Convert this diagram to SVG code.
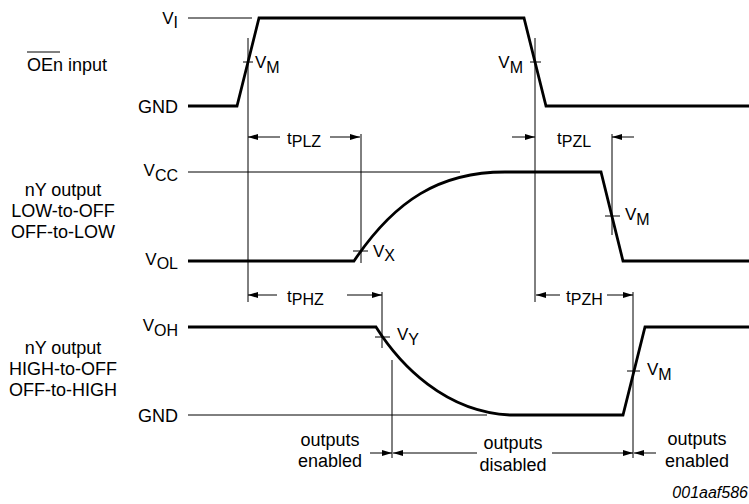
<svg xmlns="http://www.w3.org/2000/svg" width="749" height="504" viewBox="0 0 749 504">
<defs>
<style>
text{font-family:"Liberation Sans",Arial,sans-serif;fill:#000}
.lbl{font-size:18px}
.v{font-size:17px}
.s{font-size:16px}
.thick{fill:none;stroke:#000;stroke-width:2.8;stroke-linejoin:miter}
.thin{fill:none;stroke:#000;stroke-width:1}
.arr{fill:none;stroke:#000;stroke-width:1;marker-end:url(#ah)}
.mid{text-anchor:middle}
.end{text-anchor:end}
</style>
<marker id="ah" viewBox="0 0 10 6" refX="10" refY="3" markerWidth="10" markerHeight="6" markerUnits="userSpaceOnUse" orient="auto">
<path d="M0,0 L10,3 L0,6 Z" fill="#000"/>
</marker>
</defs>
<rect width="749" height="504" fill="#fff"/>

<g id="row-oen">
<text class="lbl" x="27" y="71">OEn input</text>
<line class="thin" x1="27" y1="52" x2="60" y2="52"/>
<text class="v end" x="178" y="24">V<tspan class="s" dy="4">I</tspan></text>
<text class="lbl end" x="178" y="113">GND</text>
<path class="thin" d="M188,18 H252"/>
<path class="thick" d="M188,106 H237 L259,18 H524 L546,106 H749"/>
</g>

<g id="row-low">
<text class="lbl mid" x="63" y="196">nY output</text>
<text class="lbl mid" x="63" y="217">LOW-to-OFF</text>
<text class="lbl mid" x="63" y="238">OFF-to-LOW</text>
<text class="v end" x="178" y="176">V<tspan class="s" dy="5">CC</tspan></text>
<text class="v end" x="178" y="265">V<tspan class="s" dy="4">OL</tspan></text>
<path class="thin" d="M188,172 H460"/>
<path class="thick" d="M188,261 H354 C395,200 440,172 505,172 H601 L623,261 H749"/>
</g>

<g id="row-high">
<text class="lbl mid" x="63" y="354">nY output</text>
<text class="lbl mid" x="63" y="375">HIGH-to-OFF</text>
<text class="lbl mid" x="63" y="396">OFF-to-HIGH</text>
<text class="v end" x="178" y="331">V<tspan class="s" dy="5">OH</tspan></text>
<text class="lbl end" x="178" y="422">GND</text>
<path class="thin" d="M188,415 H487"/>
<path class="thick" d="M188,327 H376 C400,365 445,412 510,415 H623 L645,327 H749"/>
</g>

<g id="connectors">
<path class="thin" d="M248,38 V302 M535,38 V302 M361,134 V263 M612,134 V235 M382,292 V348 M633,292 V458 M392,360 V458"/>
<path class="thin" d="M243,62 H253 M530,62 H541 M353,251 H368 M605,216 H620 M375,337 H390 M627,371 H640"/>
<line class="arr" x1="280" y1="137" x2="248" y2="137"/>
<line class="arr" x1="330" y1="137" x2="360" y2="137"/>
<line class="arr" x1="512" y1="137" x2="535" y2="137"/>
<line class="arr" x1="634" y1="137" x2="612" y2="137"/>
<line class="arr" x1="277" y1="295" x2="248" y2="295"/>
<line class="arr" x1="347" y1="295" x2="382" y2="295"/>
<line class="arr" x1="560" y1="295" x2="536" y2="295"/>
<line class="arr" x1="607" y1="295" x2="633" y2="295"/>
<line class="arr" x1="370" y1="453" x2="392" y2="453"/>
<line class="arr" x1="477" y1="453" x2="393" y2="453"/>
<line class="arr" x1="552" y1="453" x2="633" y2="453"/>
<line class="arr" x1="656" y1="453" x2="634" y2="453"/>
</g>

<g id="labels">
<text class="v" x="255" y="68">V<tspan class="s" dy="5">M</tspan></text>
<text class="v end" x="523" y="68">V<tspan class="s" dy="5">M</tspan></text>
<text class="v" x="373" y="257">V<tspan class="s" dy="4">X</tspan></text>
<text class="v" x="625" y="220">V<tspan class="s" dy="5">M</tspan></text>
<text class="v" x="397" y="340">V<tspan class="s" dy="5">Y</tspan></text>
<text class="v" x="647" y="375">V<tspan class="s" dy="5">M</tspan></text>
<text class="v" x="287" y="144">t<tspan class="s" dy="3">PLZ</tspan></text>
<text class="v" x="557" y="144">t<tspan class="s" dy="3">PZL</tspan></text>
<text class="v" x="287" y="302">t<tspan class="s" dy="3">PHZ</tspan></text>
<text class="v" x="566" y="302">t<tspan class="s" dy="3">PZH</tspan></text>
<text class="lbl mid" x="330" y="446">outputs</text>
<text class="lbl mid" x="330" y="467">enabled</text>
<text class="lbl mid" x="513" y="449">outputs</text>
<text class="lbl mid" x="513" y="471">disabled</text>
<text class="lbl mid" x="697" y="445">outputs</text>
<text class="lbl mid" x="697" y="467">enabled</text>
<text x="748" y="498" style="font-size:16px;font-style:italic;text-anchor:end">001aaf586</text>
</g>
</svg>
